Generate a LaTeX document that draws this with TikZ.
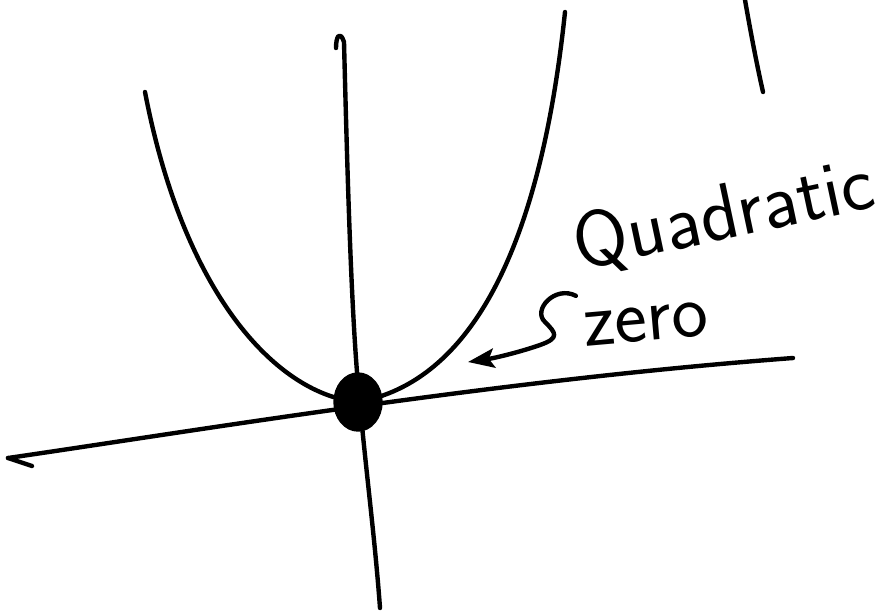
\documentclass[tikz,border=0pt]{standalone}
\usepackage{tikz}
\usetikzlibrary{positioning,arrows.meta,calc,shapes.geometric}

\begin{document}
\begin{tikzpicture}[x=0.02cm,y=-0.02cm,>=Stealth,
  pen/.style={line width=2.5pt,line cap=round,line join=round},
  dot/.style={ellipse,draw,fill=black,line width=2.5pt,minimum width=0.9cm,minimum height=1.1cm,inner sep=0pt},
  scrawl/.style={font=\sffamily,inner sep=0pt}]
  \useasboundingbox (0,0) rectangle (895,613);
  % axes
  \draw[pen] (8,458) .. controls (200,430) and (500,380) .. (793,358);
  \draw[pen] (8,458) -- (32,466);
  \draw[pen] (336,48) .. controls (336,36) and (340,30) .. (344,42)
    .. controls (348,200) and (352,330) .. (360,405)
    .. controls (367,480) and (375,540) .. (380,608);
  % the parabola touching the axis
  \draw[pen] (145,92) .. controls (185,300) and (280,395) .. (358,402)
    .. controls (470,382) and (540,250) .. (565,12);
  \draw[pen] (745,0) .. controls (752,40) and (758,70) .. (763,92);
  % double root
  \node[dot] (origin) at (358,402) {};
  % labels
  \node[scrawl,font=\sffamily\fontsize{45}{45}\selectfont,rotate=12] (quadlabel) at (724,216) {Quadratic};
  \node[scrawl,font=\sffamily\fontsize{44}{44}\selectfont,rotate=5] (zerolabel) at (646,324) {zero};
  \coordinate (tip) at (468,362);
  \draw[pen,->,>={Stealth[length=15pt,width=11pt,inset=3pt]}]
    ($(zerolabel.north west)+(-6,-16)$) .. controls (555,285) and (532,310) .. (545,322)
    .. controls (556,333) and (560,338) .. (540,345)
    .. controls (520,352) and (495,358) .. (tip);
\end{tikzpicture}
\end{document}
